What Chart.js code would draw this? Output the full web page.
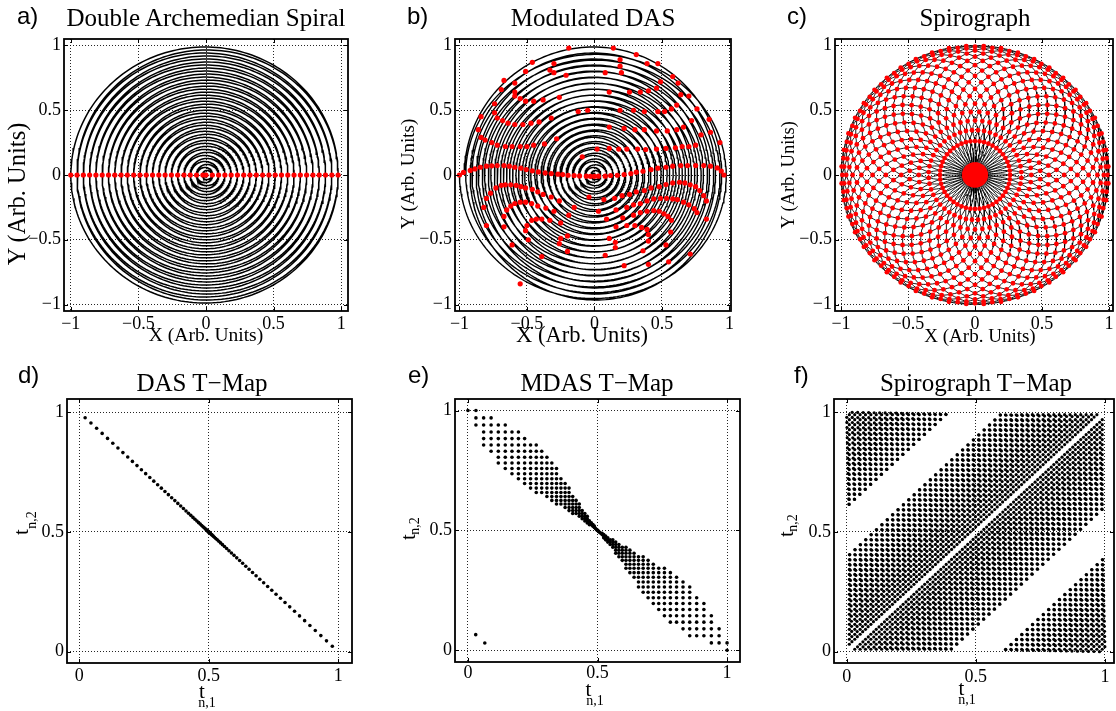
<!DOCTYPE html>
<html>
<head>
<meta charset="utf-8">
<title>Spiral trajectories and T-maps</title>
<script src="https://cdn.jsdelivr.net/npm/chart.js@4.4.1/dist/chart.umd.min.js"></script>
<style>
  html, body { margin: 0; padding: 0; background: #fff; }
  body { position: relative; width: 1116px; height: 711px; overflow: hidden; }
  canvas { position: absolute; }
  .txt { position: absolute; white-space: nowrap; color: #000; line-height: 1;
         font-family: 'Liberation Serif', 'Times New Roman', serif; transform: translate(-50%, -50%); }
  .txt.rot { transform: translate(-50%, -50%) rotate(-90deg); }
  .txt.letter { font-family: 'Liberation Sans', Arial, sans-serif; font-size: 24px; transform: translate(0, -50%); }
</style>
</head>
<body>
<script>
// ---------------- values ----------------
const panelLetters = ['a)', 'b)', 'c)', 'd)', 'e)', 'f)'];
const panelTitles = ['Double Archemedian Spiral', 'Modulated DAS', 'Spirograph',
                     'DAS T\u2212Map', 'MDAS T\u2212Map', 'Spirograph T\u2212Map'];
const spiralTicks = [-1, -0.5, 0, 0.5, 1];
const tmapTicks = [0, 0.5, 1];

// double Archimedean spiral: number of times the two arms meet on the x axis
const dasCrossings = 43;
// modulated DAS: arm 1 squashed along x, arm 2 along y
const mdasSquash = [0.035, 0.035];
// crossing points of the modulated spiral
const mdasDots = [
  [-0.19,0.98],[-0.46,0.87],[-0.51,0.80],[-0.30,0.86],[-0.33,0.81],[-0.30,0.79],[-0.21,0.77],
  [-0.67,0.73],[-0.59,0.71],[-0.69,0.66],[-0.59,0.64],[-0.59,0.61],[-0.55,0.59],[-0.51,0.57],
  [-0.45,0.57],[-0.38,0.58],[-0.26,0.60],[-0.74,0.55],[-0.74,0.48],[-0.84,0.45],[-0.72,0.44],
  [-0.68,0.42],[-0.64,0.40],[-0.59,0.39],[-0.53,0.39],[-0.47,0.40],[-0.41,0.41],[-0.32,0.44],
  [-0.12,0.49],[-0.05,0.50],[-0.86,0.35],[-0.84,0.29],[-0.81,0.27],[-0.76,0.25],[-0.72,0.23],
  [-0.66,0.22],[-0.61,0.22],[-0.55,0.22],[-0.50,0.22],[-0.45,0.23],[-0.37,0.24],[-0.28,0.28],
  [-0.09,0.14],
  [-1.00,0.00],[-0.97,0.02],[-0.92,0.035],[-0.885,0.047],[-0.845,0.06],[-0.80,0.068],[-0.76,0.071],
  [-0.72,0.073],[-0.67,0.073],[-0.63,0.068],[-0.59,0.06],[-0.545,0.053],[-0.505,0.042],[-0.46,0.032],
  [-0.415,0.024],[-0.365,0.016],[-0.32,0.011],[-0.27,0.006],[-0.235,0.003],[-0.195,-0.002],
  [-0.15,-0.004],[-0.11,-0.007],[-0.06,-0.009],[-0.03,-0.01],[0.00,-0.01],
  [0.14,0.98],[0.31,0.93],[0.39,0.86],[0.47,0.86],[0.19,0.89],[0.19,0.84],[0.08,0.79],[0.20,0.79],
  [0.58,0.76],[0.49,0.72],[0.62,0.71],[0.46,0.67],[0.40,0.65],[0.34,0.64],[0.26,0.64],[0.11,0.64],
  [0.64,0.62],[0.70,0.61],[0.61,0.54],[0.57,0.51],[0.52,0.49],[0.47,0.49],[0.37,0.49],[0.29,0.50],
  [0.19,0.50],[0.76,0.51],[0.72,0.42],[0.66,0.37],[0.85,0.43],[0.61,0.35],[0.54,0.34],[0.46,0.34],
  [0.37,0.35],[0.30,0.35],[0.22,0.36],[0.11,0.37],[0.79,0.31],[0.86,0.33],[0.93,0.25],[0.75,0.23],
  [0.70,0.22],[0.65,0.22],[0.60,0.21],[0.53,0.205],[0.46,0.20],[0.38,0.197],[0.32,0.20],[0.24,0.20],
  [0.18,0.20],[0.11,0.205],[0.02,0.20],
  [0.03,-0.009],[0.08,-0.009],[0.12,-0.004],[0.17,-0.002],[0.22,0.003],[0.27,0.011],[0.31,0.022],
  [0.36,0.029],[0.42,0.042],[0.47,0.053],[0.53,0.06],[0.58,0.068],[0.64,0.073],[0.69,0.073],
  [0.75,0.073],[0.81,0.073],[0.86,0.068],[0.91,0.055],[0.94,0.03],[0.96,0.00],
  [-0.82,-0.25],[-0.80,-0.18],[-0.77,-0.14],[-0.73,-0.10],[-0.69,-0.08],[-0.66,-0.076],[-0.62,-0.076],
  [-0.58,-0.08],[-0.545,-0.09],[-0.51,-0.10],[-0.46,-0.11],[-0.42,-0.13],[-0.38,-0.15],[-0.32,-0.17],
  [-0.26,-0.20],[-0.15,-0.25],[-0.04,-0.17],[-0.80,-0.39],[-0.67,-0.40],[-0.67,-0.32],[-0.65,-0.27],
  [-0.62,-0.24],[-0.59,-0.22],[-0.55,-0.21],[-0.51,-0.21],[-0.465,-0.22],[-0.42,-0.24],[-0.36,-0.255],
  [-0.30,-0.28],[-0.19,-0.31],[-0.51,-0.43],[-0.50,-0.39],[-0.465,-0.35],[-0.43,-0.34],[-0.39,-0.34],
  [-0.33,-0.35],[-0.25,-0.37],[-0.20,-0.47],[-0.25,-0.49],[-0.26,-0.53],[-0.20,-0.59],[-0.61,-0.54],
  [-0.49,-0.50],[-0.39,-0.63],[-0.55,-0.84],
  [0.07,-0.19],[0.15,-0.18],[0.205,-0.16],[0.26,-0.15],[0.31,-0.13],[0.37,-0.12],[0.42,-0.10],
  [0.48,-0.09],[0.53,-0.074],[0.58,-0.061],[0.63,-0.056],[0.67,-0.061],[0.71,-0.076],[0.75,-0.09],
  [0.78,-0.12],[0.81,-0.16],[0.83,-0.20],
  [0.16,-0.27],[0.24,-0.25],[0.29,-0.23],[0.34,-0.22],[0.39,-0.20],[0.44,-0.185],[0.49,-0.18],
  [0.535,-0.18],[0.58,-0.185],[0.615,-0.19],[0.66,-0.21],[0.70,-0.23],[0.74,-0.26],[0.76,-0.29],
  [0.83,-0.34],[0.03,-0.28],[0.09,-0.34],[0.16,-0.40],[0.11,-0.49],[0.155,-0.52],[0.155,-0.56],
  [0.08,-0.62],[0.21,-0.33],[0.29,-0.31],[0.34,-0.29],[0.39,-0.28],[0.44,-0.275],[0.48,-0.28],
  [0.515,-0.30],[0.545,-0.32],[0.57,-0.35],[0.565,-0.44],[0.24,-0.39],[0.30,-0.39],[0.35,-0.405],
  [0.39,-0.42],[0.40,-0.46],[0.40,-0.51],[0.36,-0.585],[0.53,-0.54],[0.55,-0.67],[0.71,-0.61],
  [0.40,-0.69],[0.22,-0.70]
];
// MDAS T-map: ring steps and the band of offsets from the anti-diagonal
const mdasRings = 32;
const mdasBandAt   = [0, 0.05, 0.10, 0.15, 0.20, 0.25, 0.30, 0.35, 0.40, 0.45, 0.50];
const mdasBandLow  = [0, -0.015, -0.035, -0.06, -0.085, -0.10, -0.11, -0.105, -0.085, -0.05, -0.02];
const mdasBandHigh = [0, 0.02, 0.045, 0.075, 0.10, 0.115, 0.125, 0.12, 0.10, 0.06, 0.02];
const mdasStrays = [[0.03, 0.065], [0.065, 0.03]];
// spirograph: number of loops and the two circle radii
const spiroLoops = 48;
const spiroRadii = [0.51, 0.49];

// ---------------- geometry ----------------
function dasPath(squashA, squashB) {
  const w = dasCrossings * Math.PI, n = 9000, pts = [];
  for (let i = 0; i <= n; i++) {
    const s = -1 + 2 * i / n, r = Math.abs(s);
    let x = r * Math.cos(w * s), y = r * Math.sin(w * s);
    if (s > 0) x *= 1 - squashA; else y *= 1 - squashB;
    pts.push({ x, y });
  }
  return pts;
}

const dasDots = [];
for (let m = 0; m <= dasCrossings; m++) {
  const r = m / dasCrossings;
  dasDots.push({ x: m % 2 ? -r : r, y: 0 });
}
const dasTmap = [];
for (let m = 1; m < dasCrossings; m++) {
  const q = (m / dasCrossings) ** 2 / 2;
  dasTmap.push({ x: 0.5 - q, y: 0.5 + q }, { x: 0.5 + q, y: 0.5 - q });
}

function interp(ys, d) {
  const xs = mdasBandAt;
  if (d >= xs[xs.length - 1]) return ys[ys.length - 1];
  let k = 0;
  while (xs[k + 1] < d) k++;
  const f = (d - xs[k]) / (xs[k + 1] - xs[k]);
  return ys[k] + f * (ys[k + 1] - ys[k]);
}
const mdasTmap = [];
for (let j = 1; j <= mdasRings; j++) {
  for (let l = 1; l <= mdasRings; l++) {
    const qa = (j / mdasRings) ** 2 / 2, qb = (l / mdasRings) ** 2 / 2;
    const off = qa - qb, d = (qa + qb) / 2;
    if (off >= interp(mdasBandLow, d) - 1e-9 && off <= interp(mdasBandHigh, d) + 1e-9) {
      mdasTmap.push({ x: 0.5 - qb, y: 0.5 + qa }, { x: 0.5 + qa, y: 0.5 - qb });
    }
  }
}
mdasStrays.forEach(([x, y]) => mdasTmap.push({ x, y }));

function spiroPath() {
  const [ra, rb] = spiroRadii, n = spiroLoops, m = n * 180, pts = [];
  for (let i = 0; i <= m; i++) {
    const t = i / m, th = 2 * Math.PI * t;
    pts.push({ x: ra * Math.cos(th) + rb * Math.cos((n - 1) * th),
               y: ra * Math.sin(th) - rb * Math.sin((n - 1) * th), t });
  }
  return pts;
}

// where a closed path crosses itself, with the two path times of each crossing
function selfCrossings(pts) {
  const m = pts.length - 1, cell = 0.04, grid = new Map();
  for (let i = 0; i < m; i++) {
    const p = pts[i], q = pts[i + 1];
    const x0 = Math.floor(Math.min(p.x, q.x) / cell), x1 = Math.floor(Math.max(p.x, q.x) / cell);
    const y0 = Math.floor(Math.min(p.y, q.y) / cell), y1 = Math.floor(Math.max(p.y, q.y) / cell);
    for (let cx = x0; cx <= x1; cx++) for (let cy = y0; cy <= y1; cy++) {
      const key = (cx + 100) * 1000 + (cy + 100);
      if (!grid.has(key)) grid.set(key, []);
      grid.get(key).push(i);
    }
  }
  const seen = new Set(), out = [];
  for (const list of grid.values()) {
    for (let a = 0; a < list.length; a++) for (let b = a + 1; b < list.length; b++) {
      const i = Math.min(list[a], list[b]), j = Math.max(list[a], list[b]);
      if (j - i < 2 || (i === 0 && j === m - 1)) continue;
      const key = i * m + j;
      if (seen.has(key)) continue;
      seen.add(key);
      const p = pts[i], r = { x: pts[i + 1].x - p.x, y: pts[i + 1].y - p.y };
      const q = pts[j], s = { x: pts[j + 1].x - q.x, y: pts[j + 1].y - q.y };
      const den = r.x * s.y - r.y * s.x;
      if (Math.abs(den) < 1e-14) continue;
      const qp = { x: q.x - p.x, y: q.y - p.y };
      const u = (qp.x * s.y - qp.y * s.x) / den, v = (qp.x * r.y - qp.y * r.x) / den;
      if (u >= 0 && u < 1 && v >= 0 && v < 1) {
        out.push({ x: p.x + u * r.x, y: p.y + u * r.y, t1: (i + u) / m, t2: (j + v) / m });
      }
    }
  }
  return out;
}

const spiro = spiroPath();
const spiroHits = selfCrossings(spiro);
const spiroDots = spiroHits.map(h => ({ x: h.x, y: h.y }));
const spiroTmap = [];
spiroHits.forEach(h => spiroTmap.push({ x: h.t1, y: h.t2 }, { x: h.t2, y: h.t1 }));

// ---------------- drawing ----------------
Chart.defaults.font.family = "'Liberation Serif', 'Times New Roman', serif";
Chart.defaults.color = '#000';

const fmtTick = v => (v < 0 ? '\u2212' + (-v) : String(v));

const boxPlugin = {
  id: 'axesBox',
  afterDraw(chart) {
    const { ctx, chartArea: a, scales: { x, y } } = chart;
    ctx.save();
    ctx.strokeStyle = '#000';
    ctx.lineWidth = 1;
    ctx.beginPath();
    x.ticks.forEach(t => {
      const px = Math.round(x.getPixelForValue(t.value)) + 0.5;
      ctx.moveTo(px, a.bottom); ctx.lineTo(px, a.bottom - 4);
      ctx.moveTo(px, a.top); ctx.lineTo(px, a.top + 4);
    });
    y.ticks.forEach(t => {
      const py = Math.round(y.getPixelForValue(t.value)) + 0.5;
      ctx.moveTo(a.left, py); ctx.lineTo(a.left + 4, py);
      ctx.moveTo(a.right, py); ctx.lineTo(a.right - 4, py);
    });
    ctx.stroke();
    ctx.lineWidth = 1.8;
    ctx.strokeRect(a.left, a.top, a.right - a.left, a.bottom - a.top);
    ctx.restore();
  }
};

function axis(side, range, ticks, pad, fit) {
  return {
    type: 'linear', position: side, min: range[0], max: range[1],
    afterBuildTicks: ax => { ax.ticks = ticks.map(v => ({ value: v })); },
    afterFit: ax => { if (side === 'left') ax.width = fit; else ax.height = fit; },
    grid: { color: 'rgba(0,0,0,0.85)', lineWidth: 1, drawTicks: false },
    border: { display: false, dash: [1, 2] },
    ticks: { font: { size: 18 }, padding: pad, callback: fmtTick, autoSkip: false, maxRotation: 0 }
  };
}

function curve(data, width) {
  return { data, showLine: true, borderColor: '#000', borderWidth: width, pointRadius: 0, order: 2 };
}
function dots(data, color, radius) {
  return { data, showLine: false, pointRadius: radius, pointBackgroundColor: color,
           pointBorderWidth: 0, borderColor: color, order: 1 };
}

const panels = [
  { box: [64, 39, 348, 311], x: [-1.05, 1.05], y: [-1.05, 1.05], ticks: spiralTicks, xPad: 2,
    datasets: [dots(dasDots, '#ff0000', 2.6), curve(dasPath(0, 0), 1.5)] },
  { box: [455, 39, 731, 311], x: [-1.033, 1.012], y: [-1.05, 1.05], ticks: spiralTicks, xPad: 2,
    datasets: [dots(mdasDots.map(([x, y]) => ({ x, y })), '#ff0000', 2.6),
               curve(dasPath(mdasSquash[0], mdasSquash[1]), 1.4)] },
  { box: [835, 39, 1113, 311], x: [-1.045, 1.03], y: [-1.05, 1.05], ticks: spiralTicks, xPad: 2,
    datasets: [dots(spiroDots, '#ff0000', 2.4), curve(spiro, 0.9)] },
  { box: [67, 399, 352, 663], x: [-0.047, 1.053], y: [-0.047, 1.055], ticks: tmapTicks, xPad: 2,
    datasets: [dots(dasTmap, '#000', 1.8)] },
  { box: [455, 399, 740, 662], x: [-0.05, 1.05], y: [-0.049, 1.048], ticks: tmapTicks, xPad: 0,
    datasets: [dots(mdasTmap, '#000', 1.8)] },
  { box: [834, 399, 1114, 663], x: [-0.049, 1.035], y: [-0.047, 1.055], ticks: tmapTicks, xPad: 3,
    datasets: [dots(spiroTmap, '#000', 1.6)] }
];

const padL = 62, padT = 14, padR = 16, padB = 34;
panels.forEach(p => {
  const [l, t, r, b] = p.box;
  const w = r - l + padL + padR, h = b - t + padT + padB;
  const cv = document.createElement('canvas');
  cv.width = w; cv.height = h;
  Object.assign(cv.style, { left: (l - padL) + 'px', top: (t - padT) + 'px', width: w + 'px', height: h + 'px' });
  document.body.appendChild(cv);
  new Chart(cv, {
    type: 'scatter',
    data: { datasets: p.datasets.map(d => Object.assign({ parsing: false, normalized: true }, d)) },
    options: {
      responsive: false, animation: false, devicePixelRatio: 1, events: [],
      layout: { padding: { top: padT, right: padR, left: 0, bottom: 0 } },
      plugins: { legend: { display: false }, tooltip: { enabled: false } },
      scales: { x: axis('bottom', p.x, p.ticks, p.xPad, padB), y: axis('left', p.y, p.ticks, 3, padL) }
    },
    plugins: [boxPlugin]
  });
});

// ---------------- text ----------------
function addText(text, cls, left, top, size) {
  const d = document.createElement('div');
  d.className = 'txt' + (cls ? ' ' + cls : '');
  d.textContent = text;
  d.style.left = left + 'px';
  d.style.top = top + 'px';
  if (size) d.style.fontSize = size + 'px';
  document.body.appendChild(d);
}

const letterPos = [[17, 16], [407, 16], [787, 16], [18, 375], [408, 375], [794, 375]];
panelLetters.forEach((s, i) => addText(s, 'letter', letterPos[i][0], letterPos[i][1]));

const titlePos = [[206, 16.5], [593, 16.5], [975, 16.5], [202, 382], [597, 382], [976, 382]];
panelTitles.forEach((s, i) => addText(s, '', titlePos[i][0], titlePos[i][1], 25));

addText('X (Arb. Units)', '', 206, 334.5, 19.5);
addText('X (Arb. Units)', '', 582, 334.5, 22.5);
addText('X (Arb. Units)', '', 980, 334.5, 19);
addText('Y (Arb. Units)', 'rot', 17, 194, 24.5);
addText('Y (Arb. Units)', 'rot', 407, 174, 19);
addText('Y (Arb. Units)', 'rot', 788, 175, 18.5);

// t_{n,1} under each T-map, t_{n,2} beside it
[[202, 691, 207, 702.5], [588.5, 689, 595, 701], [961.5, 688, 967, 700]].forEach(([tx, ty, sx, sy]) => {
  addText('t', '', tx, ty, 21);
  addText('n,1', '', sx, sy, 14);
});
[[21, 532, 32, 520], [407.5, 537, 415, 526], [786, 534, 793, 523]].forEach(([tx, ty, sx, sy]) => {
  addText('t', 'rot', tx, ty, 21);
  addText('n,2', 'rot', sx, sy, 14);
});
</script>
</body>
</html>
